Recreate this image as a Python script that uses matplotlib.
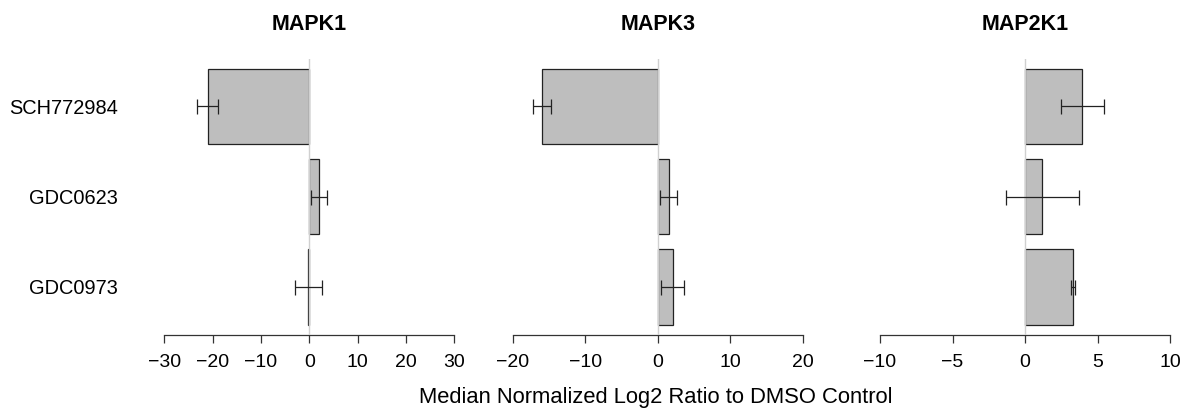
import matplotlib
matplotlib.use("Agg")
import matplotlib.pyplot as plt
import numpy as np

plt.rcParams['font.family'] = ['Liberation Sans', 'DejaVu Sans']

drugs = ["SCH772984", "GDC0623", "GDC0973"]
targets = ["MAPK1", "MAPK3", "MAP2K1"]
values = {
    "MAPK1": [-21.0, 1.95, -0.2],
    "MAPK3": [-15.95, 1.52, 2.07],
    "MAP2K1": [3.96, 1.20, 3.33],
}
err_center = {
    "MAPK1": [-21.1, 1.97, -0.14],
    "MAPK3": [-15.96, 1.51, 2.08],
    "MAP2K1": [3.96, 1.21, 3.33],
}
err_half = {
    "MAPK1": [2.2, 1.6, 2.8],
    "MAPK3": [1.2, 1.15, 1.58],
    "MAP2K1": [1.47, 2.49, 0.14],
}
xlims = {"MAPK1": 30, "MAPK3": 20, "MAP2K1": 10}
xticks = {
    "MAPK1": [-30, -20, -10, 0, 10, 20, 30],
    "MAPK3": [-20, -10, 0, 10, 20],
    "MAP2K1": [-10, -5, 0, 5, 10],
}

W, H = 1190, 416
fig = plt.figure(figsize=(W / 100, H / 100), dpi=100)

lefts_px = [152.7, 501.1, 868.4]
width_px = 313.2
top_px, bottom_px = 58.6, 334.8

ypos = [3.1, 1.9, 0.7]

for i, t in enumerate(targets):
    ax = fig.add_axes([lefts_px[i] / W, 1 - bottom_px / H, width_px / W,
                       (bottom_px - top_px) / H])
    lim = xlims[t]
    ax.set_xlim(-lim * 1.08, lim * 1.08)
    ax.set_ylim(0.064, 3.736)
    ax.barh(ypos, values[t], height=1.0, color="#BEBEBE",
            edgecolor="#222222", linewidth=0.9, zorder=2)
    ax.axvline(0, color="#D0D0D0", lw=1.0, zorder=3)
    ax.errorbar(err_center[t], ypos, xerr=err_half[t], fmt="none",
                ecolor="#222222", elinewidth=0.9, capsize=5.4,
                capthick=0.9, zorder=4)
    for s in ["top", "right", "left"]:
        ax.spines[s].set_visible(False)
    ax.spines["bottom"].set_bounds(-lim, lim)
    ax.spines["bottom"].set_linewidth(0.9)
    ax.spines["bottom"].set_color("#333333")
    ax.set_xticks(xticks[t])
    ax.set_xticklabels([("\u2212" + str(abs(v))) if v < 0 else str(v)
                        for v in xticks[t]])
    ax.tick_params(axis="x", length=5.8, width=0.9, color="#333333",
                   labelsize=14, pad=8)
    if i == 0:
        ax.set_yticks(ypos)
        ax.set_yticklabels(drugs)
        ax.tick_params(axis="y", length=0, labelsize=14.4, pad=25)
    else:
        ax.set_yticks([])
    cx = (lefts_px[i] + width_px / 2) / W
    fig.text(cx, 1 - 25 / H, t, ha="center", va="center",
             fontsize=15.5, fontweight="bold")

fig.text(656 / W, 1 - 398 / H, "Median Normalized Log2 Ratio to DMSO Control",
         ha="center", va="center", fontsize=15.8)

fig.savefig("out.png", dpi=100)
